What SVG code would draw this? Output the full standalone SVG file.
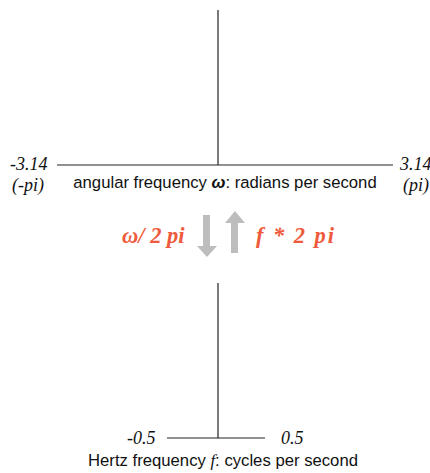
<svg xmlns="http://www.w3.org/2000/svg" width="430" height="473" viewBox="0 0 430 473">
<style>
.ax{stroke:#222;stroke-width:1.2;fill:none}
.num{font-family:"Liberation Serif",serif;font-style:italic;font-size:18px;fill:#111}
.lab{font-family:"Liberation Sans",sans-serif;font-size:16.7px;fill:#111}
.red{font-family:"Liberation Serif",serif;font-style:italic;font-weight:bold;font-size:22.5px;fill:#f05a3c}
.arr{fill:#bdbdbd}
</style>
<g id="connectors">
<line class="ax" x1="218" y1="10" x2="218" y2="165"/>
<line class="ax" x1="57" y1="165" x2="393" y2="165"/>
<line class="ax" x1="218" y1="283" x2="218" y2="438"/>
<line class="ax" x1="167" y1="438" x2="265" y2="438"/>
</g>
<g id="arrow-down"><polygon class="arr" points="203,215 210,215 210,246 217,246 207,257 197,246 203,246"/></g>
<g id="arrow-up"><polygon class="arr" points="231,253 238,253 238,223 245,223 235,211 225,223 231,223"/></g>
<g id="top-axis">
<text class="num" x="10" y="170">-3.14</text>
<text class="num" x="12" y="191">(-pi)</text>
<text class="num" x="400" y="170">3.14</text>
<text class="num" x="403" y="191">(pi)</text>
<text class="lab" x="225" y="188" text-anchor="middle">angular frequency <tspan font-weight="bold" font-style="italic">ω</tspan>: radians per second</text>
</g>
<g id="conversions">
<text class="red" x="122" y="243">ω/ 2 pi</text>
<text class="red" x="256" y="243" textLength="78" lengthAdjust="spacing">f * 2 pi</text>
</g>
<g id="bottom-axis">
<text class="num" x="127" y="444">-0.5</text>
<text class="num" x="281" y="444">0.5</text>
<text class="lab" x="223" y="466" text-anchor="middle">Hertz frequency <tspan font-family="Liberation Serif" font-style="italic">f</tspan>: cycles per second</text>
</g>
</svg>
